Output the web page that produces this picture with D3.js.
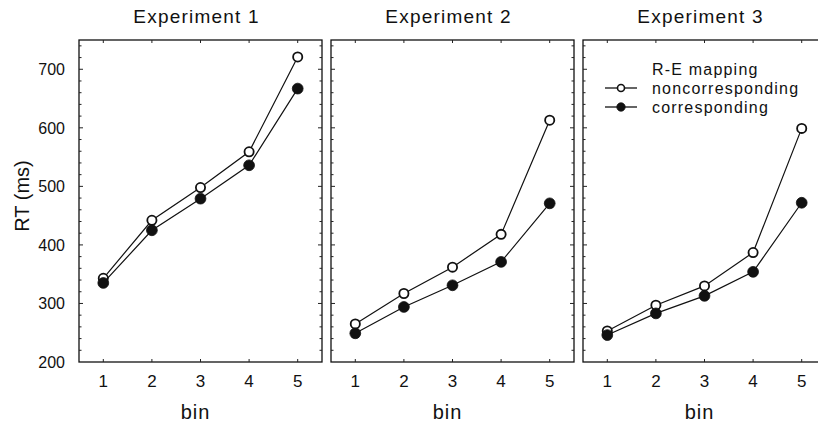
<!DOCTYPE html>
<html>
<head>
<meta charset="utf-8">
<script src="https://cdn.jsdelivr.net/npm/d3@7"></script>
<style>
body { margin: 0; background: #fff; }
text { font-family: Arial, "Liberation Sans", Helvetica, sans-serif; fill: #111; }
</style>
</head>
<body>
<div id="chart"></div>
<script>
var experiments = ["Experiment 1", "Experiment 2", "Experiment 3"];
var bins = [1, 2, 3, 4, 5];
var yTicks = [200, 300, 400, 500, 600, 700];
var noncorresponding = [
	[343, 442, 498, 559, 721],
	[265, 317, 362, 418, 613],
	[253, 297, 330, 387, 599]
];
var corresponding = [
	[335, 425, 479, 536, 667],
	[249, 294, 331, 371, 471],
	[246, 283, 313, 354, 472]
];
var legendTitle = "R-E mapping";
var seriesNames = ["noncorresponding", "corresponding"];

var width = 818, height = 425;
var panelW = 243, panelGap = 9;
var plotTop = 40, plotBottom = 362, left0 = 79;

var svg = d3.select("#chart").append("svg")
	.attr("width", width)
	.attr("height", height);

var y = d3.scaleLinear().domain([200, 750]).range([plotBottom, plotTop]);
var minor = d3.range(220, 750, 20);

experiments.forEach(function (name, i) {
	var x0 = left0 + i * (panelW + panelGap);
	var x = d3.scaleLinear().domain([0.5, 5.5]).range([x0, x0 + panelW]);
	var g = svg.append("g");

	// frame
	g.append("rect")
		.attr("x", x0).attr("y", plotTop)
		.attr("width", panelW).attr("height", plotBottom - plotTop)
		.attr("fill", "none").attr("stroke", "#111").attr("stroke-width", 1.3);

	// inner ticks on left and right
	[x0, x0 + panelW].forEach(function (ex, k) {
		var dir = k == 0 ? 1 : -1;
		g.selectAll(null).data(minor).enter().append("line")
			.attr("x1", ex).attr("x2", function (d) { return ex + dir * (d % 100 == 0 ? 4 : 2.5); })
			.attr("y1", function (d) { return y(d); })
			.attr("y2", function (d) { return y(d); })
			.attr("stroke", "#222").attr("stroke-width", 1);
	});
	// inner ticks on top and bottom
	[plotTop, plotBottom].forEach(function (ey, k) {
		var dir = k == 0 ? 1 : -1;
		g.selectAll(null).data(bins).enter().append("line")
			.attr("x1", function (d) { return x(d); })
			.attr("x2", function (d) { return x(d); })
			.attr("y1", ey).attr("y2", ey + dir * 3)
			.attr("stroke", "#222").attr("stroke-width", 1);
	});

	// y tick labels only on first panel
	if (i == 0) {
		g.selectAll(null).data(yTicks).enter().append("text")
			.attr("x", x0 - 14)
			.attr("y", function (d) { return y(d); })
			.attr("dy", "0.36em")
			.attr("text-anchor", "end")
			.style("font-size", "16px")
			.style("font-weight", "500")
			.text(function (d) { return d; });
		g.append("text")
			.attr("transform", "translate(29," + 196 + ") rotate(-90)")
			.attr("text-anchor", "middle")
			.style("font-size", "20px")
			.text("RT (ms)");
	}

	// x tick labels
	g.selectAll(null).data(bins).enter().append("text")
		.attr("x", function (d) { return x(d); })
		.attr("y", 387)
		.attr("text-anchor", "middle")
		.style("font-size", "17px")
		.text(function (d) { return d; });
	g.append("text")
		.attr("x", x0 + panelW / 2 - 5)
		.attr("y", 419)
		.attr("text-anchor", "middle")
		.style("font-size", "20px")
		.style("letter-spacing", "1px")
		.text("bin");

	// title
	g.append("text")
		.attr("x", x0 + panelW / 2 - 4)
		.attr("y", 23)
		.attr("text-anchor", "middle")
		.style("font-size", "19px")
		.style("letter-spacing", "1.2px")
		.text(name);

	var line = d3.line()
		.x(function (d, j) { return x(bins[j]); })
		.y(function (d) { return y(d); });

	[noncorresponding[i], corresponding[i]].forEach(function (vals, s) {
		g.append("path")
			.attr("d", line(vals))
			.attr("fill", "none").attr("stroke", "#111").attr("stroke-width", 1.2);
		g.selectAll(null).data(vals).enter().append("circle")
			.attr("cx", function (d, j) { return x(bins[j]); })
			.attr("cy", function (d) { return y(d); })
			.attr("r", s == 0 ? 4.6 : 5.4)
			.attr("fill", s == 0 ? "#fff" : "#111")
			.attr("stroke", "#111")
			.attr("stroke-width", s == 0 ? 1.8 : 0.8);
	});

	// legend in last panel
	if (i == 2) {
		var lx = x0 + 22, tx = x0 + 69;
		g.append("text").attr("x", tx).attr("y", 75)
			.style("font-size", "16px").style("letter-spacing", "1.2px").text(legendTitle);
		seriesNames.forEach(function (nm, s) {
			var ly = 88 + s * 19;
			g.append("line").attr("x1", lx).attr("x2", lx + 32)
				.attr("y1", ly).attr("y2", ly)
				.attr("stroke", "#111").attr("stroke-width", 1.3);
			g.append("circle").attr("cx", lx + 16).attr("cy", ly)
				.attr("r", s == 0 ? 3.5 : 4.2)
				.attr("fill", s == 0 ? "#fff" : "#111")
				.attr("stroke", "#111").attr("stroke-width", s == 0 ? 1.6 : 0.8);
			g.append("text").attr("x", tx).attr("y", ly).attr("dy", "0.36em")
				.style("font-size", "16px").style("letter-spacing", "1.2px").text(nm);
		});
	}
});
</script>
</body>
</html>
